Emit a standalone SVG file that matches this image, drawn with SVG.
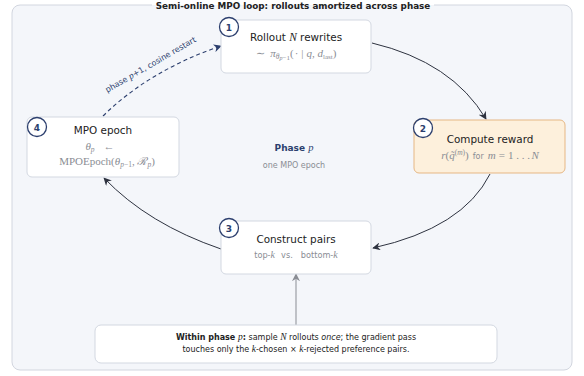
<svg xmlns="http://www.w3.org/2000/svg" width="584" height="376" viewBox="0 0 584 376">
<style>
.bg{fill:#f4f6fa;stroke:#d2d6df;stroke-width:1}
.node{fill:#ffffff;stroke:#d3d8e1;stroke-width:1}
.node2{fill:#fdf0dc;stroke:#e6b784;stroke-width:1}
.badge{fill:#ffffff;stroke:#2c3f6e;stroke-width:1.3}
.bnum{font-family:"DejaVu Sans",sans-serif;font-size:9px;font-weight:bold;fill:#2c3f6e;text-anchor:middle}
.ttl{font-family:"DejaVu Sans",sans-serif;font-size:10.4px;fill:#222;text-anchor:middle}
.sub{font-family:"Liberation Serif",serif;font-size:11px;fill:#8a8d94;text-anchor:middle}
.subs{font-family:"DejaVu Sans",sans-serif;font-size:8.2px;fill:#8a8d94;text-anchor:middle}
.it{font-style:italic}
.edge{fill:none;stroke:#2e3340;stroke-width:1}
.dash{fill:none;stroke:#2c3f6e;stroke-width:1.1;stroke-dasharray:4,3}
.note{font-family:"DejaVu Sans",sans-serif;font-size:8px;fill:#222;text-anchor:middle}
.m{font-family:"Liberation Serif",serif;font-style:italic;font-weight:normal}
</style>
<defs>
<marker id="ah" viewBox="0 0 10 10" refX="9" refY="5" markerWidth="8" markerHeight="8" orient="auto" markerUnits="userSpaceOnUse">
<path d="M0,0 L10,5 L0,10 L3,5 z" fill="#2e3340"/>
</marker>
<marker id="ahn" viewBox="0 0 10 10" refX="9" refY="5" markerWidth="8" markerHeight="8" orient="auto" markerUnits="userSpaceOnUse">
<path d="M0,0 L10,5 L0,10 L3,5 z" fill="#2c3f6e"/>
</marker>
<marker id="ahg" viewBox="0 0 10 10" refX="9" refY="5" markerWidth="8" markerHeight="8" orient="auto" markerUnits="userSpaceOnUse">
<path d="M0,0 L10,5 L0,10 L3,5 z" fill="#8a8d94"/>
</marker>
</defs>
<rect x="0" y="0" width="584" height="376" fill="#ffffff"/>
<rect class="bg" x="12" y="5" width="560" height="365" rx="8"/>
<rect x="152" y="0" width="282" height="5.5" fill="#ffffff"/>
<rect x="152" y="5.5" width="282" height="5" fill="#f4f6fa"/>
<text x="293" y="8.5" font-family="DejaVu Sans,sans-serif" font-size="8.8" font-weight="bold" fill="#222" text-anchor="middle">Semi-online MPO loop: rollouts amortized across phase</text>

<g id="connectors">
<path class="edge" d="M372,43 Q452,62 486,119" marker-end="url(#ah)"/>
<path class="edge" d="M490,174 Q463,228 373,248" marker-end="url(#ah)"/>
<path class="edge" d="M221,249 Q148,224 104,178" marker-end="url(#ah)"/>
<path class="dash" d="M103,116 Q150,70 221,46" marker-end="url(#ahn)"/>
<path d="M296,325 L296,274" fill="none" stroke="#8a8d94" stroke-width="1" marker-end="url(#ahg)"/>
<text x="152" y="67" transform="rotate(-30 152 67)" font-family="DejaVu Sans,sans-serif" font-size="8" fill="#2c3f6e" text-anchor="middle">phase <tspan class="m" font-size="9.5">p</tspan>+1, cosine restart</text>
</g>

<g id="center">
<text x="294" y="151" font-family="DejaVu Sans,sans-serif" font-size="9" font-weight="bold" fill="#2c3f6e" text-anchor="middle">Phase <tspan class="m" font-size="10.5">p</tspan></text>
<text x="294" y="168" font-family="DejaVu Sans,sans-serif" font-size="8" fill="#8a8d94" text-anchor="middle">one MPO epoch</text>
</g>

<g id="node1">
<rect class="node" x="221" y="20" width="150" height="53" rx="5"/>
<circle class="badge" cx="229" cy="27" r="9.5"/>
<text class="bnum" x="229" y="30.5">1</text>
<text class="ttl" x="296" y="41">Rollout <tspan class="m" font-size="11.5">N</tspan> rewrites</text>
<text class="sub" x="296" y="57">∼ <tspan class="it" dx="3">π</tspan><tspan class="it" font-size="7.5" dy="2">θ</tspan><tspan class="it" font-size="6" dy="1">p</tspan><tspan font-size="7" dy="-0.5">−1</tspan><tspan dy="-2.5">(</tspan><tspan dx="1">·</tspan><tspan dx="3">|</tspan><tspan class="it" dx="3">q</tspan>, <tspan class="it">d</tspan><tspan font-size="7" dy="1.5">last</tspan><tspan dy="-1.5">)</tspan></text>
</g>

<g id="node2">
<rect class="node2" x="414" y="120" width="151" height="53" rx="5"/>
<circle class="badge" cx="423" cy="128" r="9.5"/>
<text class="bnum" x="423" y="131.5">2</text>
<text class="ttl" x="490" y="143">Compute reward</text>
<text class="sub" x="490" y="159"><tspan class="it">r</tspan>(<tspan class="it">q̃</tspan><tspan font-size="7.5" dy="-4">(</tspan><tspan class="it" font-size="7.5">m</tspan><tspan font-size="7.5">)</tspan><tspan dy="4">)</tspan><tspan dx="4" font-family="DejaVu Sans,sans-serif" font-size="8">for</tspan><tspan class="it" dx="4">m</tspan><tspan dx="3">=</tspan><tspan dx="3">1 . . .</tspan><tspan class="it" dx="1.5">N</tspan></text>
</g>

<g id="node3">
<rect class="node" x="221" y="221" width="150" height="53" rx="5"/>
<circle class="badge" cx="229" cy="228" r="9.5"/>
<text class="bnum" x="229" y="231.5">3</text>
<text class="ttl" x="296" y="243">Construct pairs</text>
<text class="subs" x="296" y="258">top-<tspan class="m" font-size="10">k</tspan><tspan dx="6">vs.</tspan><tspan dx="8">bottom-</tspan><tspan class="m" font-size="10">k</tspan></text>
</g>

<g id="node4">
<rect class="node" x="27" y="117" width="152" height="60" rx="5"/>
<circle class="badge" cx="37" cy="127" r="9.5"/>
<text class="bnum" x="37" y="130.5">4</text>
<text class="ttl" x="103" y="134">MPO epoch</text>
<text class="sub" x="100" y="150"><tspan class="it">θ</tspan><tspan class="it" font-size="7.5" dy="1.5">p</tspan><tspan dx="9" dy="-1.5">←</tspan></text>
<text class="sub" x="107" y="165">MPOEpoch(<tspan class="it">θ</tspan><tspan class="it" font-size="7.5" dy="1.5">p</tspan><tspan font-size="7.5">−1</tspan><tspan dy="-1.5">, </tspan><tspan class="it">ℛ</tspan><tspan class="it" font-size="7.5" dy="1.5">p</tspan><tspan dy="-1.5">)</tspan></text>
</g>

<g id="note">
<rect class="node" x="95" y="325" width="402" height="38" rx="6"/>
<text class="note" x="296" y="340"><tspan font-weight="bold">Within phase <tspan class="m" font-size="9.5">p</tspan>:</tspan> sample <tspan class="m" font-size="9.5">N</tspan> rollouts <tspan font-style="italic">once</tspan>; the gradient pass</text>
<text class="note" x="296" y="352">touches only the <tspan class="m" font-size="9.5">k</tspan>-chosen × <tspan class="m" font-size="9.5">k</tspan>-rejected preference pairs.</text>
</g>
</svg>
